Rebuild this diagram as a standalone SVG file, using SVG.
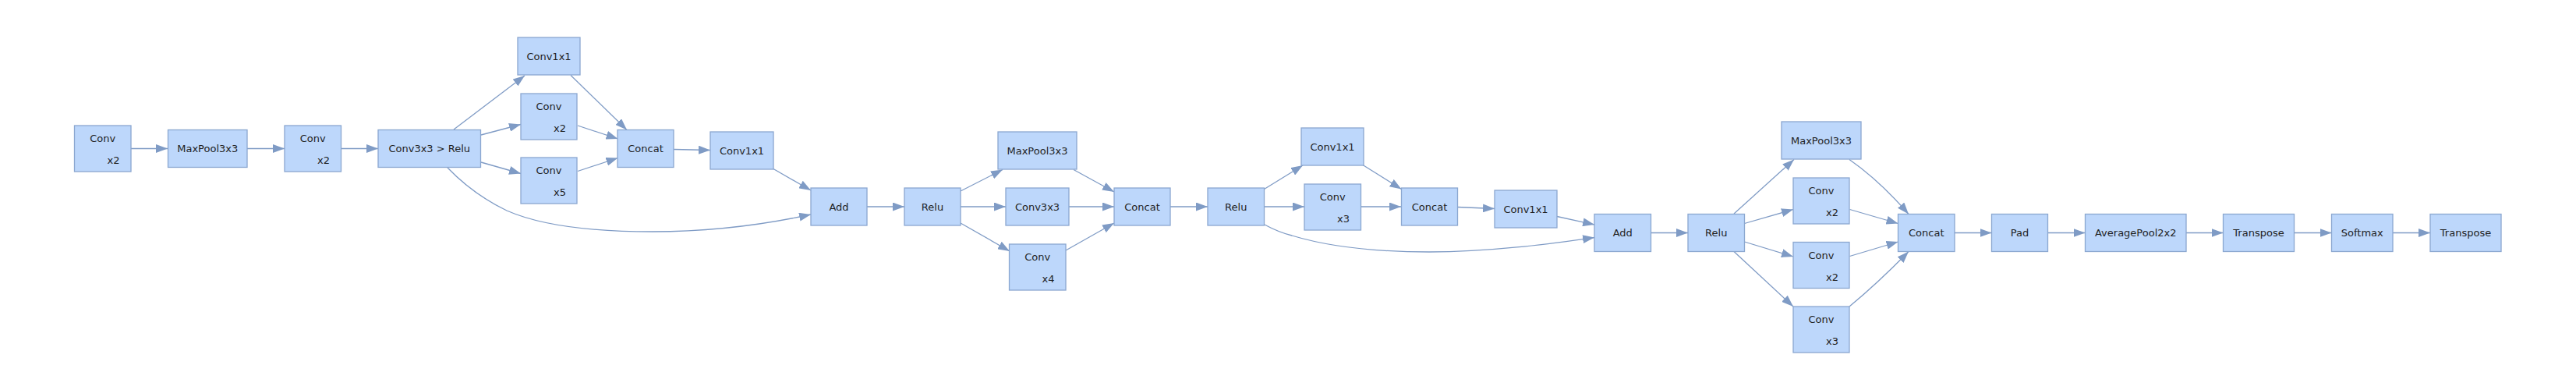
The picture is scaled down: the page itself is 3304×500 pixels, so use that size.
<svg xmlns="http://www.w3.org/2000/svg" width="3304" height="500" viewBox="0 0 3304 500">
<style>
.n rect{fill:#bdd7fb;stroke:#8ba7d0;stroke-width:1.3}
.n text{font-family:"DejaVu Sans",Verdana,sans-serif;font-size:13px;fill:#1e1e1e}
.c{text-anchor:middle}
#edges path{fill:none;stroke:#7f9bc5;stroke-width:1.3;marker-end:url(#ah)}
</style>
<defs>
<marker id="ah" markerUnits="userSpaceOnUse" markerWidth="15" markerHeight="11" viewBox="0 0 15 11" refX="15" refY="5.5" orient="auto">
<path d="M0,0 L15,5.5 L0,11 z" fill="#7f9bc5"/>
</marker>
</defs>
<rect width="3304" height="500" fill="#ffffff"/>
<g id="edges">
<path d="M168,190.5 L215,190.5"/>
<path d="M317,190.5 L365,190.5"/>
<path d="M438,190.5 L485,190.5"/>
<path d="M582,166 L673,97"/>
<path d="M617,173 L668,159.5"/>
<path d="M617,208 L668,222.5"/>
<path d="M732,96.5 L804,166.5"/>
<path d="M741,161 L792.5,178"/>
<path d="M741,219.5 L792.5,202.5"/>
<path d="M864,191.5 L911,192.5"/>
<path d="M992,216.5 L1040,244"/>
<path d="M574,215 C600,242 625,258 650,270 C700,292 770,297 837,297 C920,297 985,287 1040,275"/>
<path d="M1112,265 L1160,265"/>
<path d="M1232,245 L1286,217.5"/>
<path d="M1232,265 L1290,265"/>
<path d="M1232,286 L1295,322"/>
<path d="M1377,217.5 L1429,246"/>
<path d="M1371,265 L1429,265"/>
<path d="M1367,321 L1429,286"/>
<path d="M1501,265 L1549,265"/>
<path d="M1621.5,242.5 L1671,212"/>
<path d="M1621.5,265 L1673,265"/>
<path d="M1748,211.5 L1797.5,242.5"/>
<path d="M1745.5,265 L1797,265"/>
<path d="M1869,265.5 L1917,267.5"/>
<path d="M1997,277.5 L2045,288"/>
<path d="M1622,288 C1633,294 1645,299 1657,302 C1710,318 1770,323 1833,323 C1910,323 1985,313 2045,304.5"/>
<path d="M2117.5,298.5 L2165,298.5"/>
<path d="M2224,274 L2301,204.5"/>
<path d="M2237.5,286.5 L2300,268.5"/>
<path d="M2237.5,310 L2300,329"/>
<path d="M2224,322.5 L2300,393"/>
<path d="M2372,204.5 C2400,224 2425,248 2448,274.5"/>
<path d="M2372.5,268.5 L2434.5,286.5"/>
<path d="M2372.5,328.5 L2434.5,310"/>
<path d="M2372,393 C2400,370 2425,346 2448,322.5"/>
<path d="M2507,298.5 L2554.5,298.5"/>
<path d="M2626.5,298.5 L2674.5,298.5"/>
<path d="M2804,298.5 L2851.5,298.5"/>
<path d="M2942.5,298.5 L2990.5,298.5"/>
<path d="M3069,298.5 L3117,298.5"/>
</g>
<g id="conv1" class="n"><rect x="95.5" y="161" width="72.5" height="59"/><text class="c" x="131.75" y="182">Conv</text><text x="137.5" y="210">x2</text></g>
<g id="maxpool1" class="n"><rect x="215.5" y="166.5" width="101.5" height="48"/><text class="c" x="266.25" y="195">MaxPool3x3</text></g>
<g id="conv2" class="n"><rect x="365" y="161" width="72.5" height="59"/><text class="c" x="401.25" y="182">Conv</text><text x="407" y="210">x2</text></g>
<g id="convrelu" class="n"><rect x="485" y="166.5" width="131.5" height="48"/><text class="c" x="550.75" y="195">Conv3x3 &gt; Relu</text></g>
<g id="conv1x1a" class="n"><rect x="664" y="48" width="80" height="48"/><text class="c" x="704" y="76.5">Conv1x1</text></g>
<g id="conv3" class="n"><rect x="668" y="120" width="72" height="59"/><text class="c" x="704" y="141">Conv</text><text x="710" y="169">x2</text></g>
<g id="conv4" class="n"><rect x="668" y="202" width="72" height="59"/><text class="c" x="704" y="223">Conv</text><text x="710" y="251">x5</text></g>
<g id="concat1" class="n"><rect x="792" y="166.5" width="72" height="48"/><text class="c" x="828" y="195">Concat</text></g>
<g id="conv1x1b" class="n"><rect x="911" y="169" width="81" height="48"/><text class="c" x="951.5" y="197.5">Conv1x1</text></g>
<g id="add1" class="n"><rect x="1040" y="241" width="72" height="48"/><text class="c" x="1076" y="269.5">Add</text></g>
<g id="relu1" class="n"><rect x="1160" y="241" width="72" height="48"/><text class="c" x="1196" y="269.5">Relu</text></g>
<g id="maxpool2" class="n"><rect x="1280" y="169" width="101" height="48"/><text class="c" x="1330.5" y="197.5">MaxPool3x3</text></g>
<g id="conv3x3" class="n"><rect x="1290" y="241" width="81" height="48"/><text class="c" x="1330.5" y="269.5">Conv3x3</text></g>
<g id="conv5" class="n"><rect x="1294.5" y="313" width="72.5" height="59"/><text class="c" x="1330.75" y="334">Conv</text><text x="1336.5" y="362">x4</text></g>
<g id="concat2" class="n"><rect x="1429" y="241" width="72" height="48"/><text class="c" x="1465" y="269.5">Concat</text></g>
<g id="relu2" class="n"><rect x="1549" y="241" width="72.5" height="48"/><text class="c" x="1585.25" y="269.5">Relu</text></g>
<g id="conv1x1c" class="n"><rect x="1669" y="164" width="80" height="48"/><text class="c" x="1709" y="192.5">Conv1x1</text></g>
<g id="conv6" class="n"><rect x="1673" y="236" width="72.5" height="59"/><text class="c" x="1709.25" y="257">Conv</text><text x="1715" y="285">x3</text></g>
<g id="concat3" class="n"><rect x="1797.5" y="241" width="72" height="48"/><text class="c" x="1833.5" y="269.5">Concat</text></g>
<g id="conv1x1d" class="n"><rect x="1917" y="244" width="80" height="48"/><text class="c" x="1957" y="272.5">Conv1x1</text></g>
<g id="add2" class="n"><rect x="2045" y="274.5" width="72.5" height="48"/><text class="c" x="2081.25" y="303">Add</text></g>
<g id="relu3" class="n"><rect x="2165" y="274.5" width="72.5" height="48"/><text class="c" x="2201.25" y="303">Relu</text></g>
<g id="maxpool3" class="n"><rect x="2285" y="156" width="102" height="48"/><text class="c" x="2336" y="184.5">MaxPool3x3</text></g>
<g id="conv7" class="n"><rect x="2300" y="228" width="72" height="59"/><text class="c" x="2336" y="249">Conv</text><text x="2342" y="277">x2</text></g>
<g id="conv8" class="n"><rect x="2300" y="310.5" width="72" height="59"/><text class="c" x="2336" y="331.5">Conv</text><text x="2342" y="359.5">x2</text></g>
<g id="conv9" class="n"><rect x="2300" y="393" width="72" height="59"/><text class="c" x="2336" y="414">Conv</text><text x="2342" y="442">x3</text></g>
<g id="concat4" class="n"><rect x="2434.5" y="274.5" width="72.5" height="48"/><text class="c" x="2470.75" y="303">Concat</text></g>
<g id="pad" class="n"><rect x="2554.5" y="274.5" width="72" height="48"/><text class="c" x="2590.5" y="303">Pad</text></g>
<g id="avgpool" class="n"><rect x="2674.5" y="274.5" width="129.5" height="48"/><text class="c" x="2739.25" y="303">AveragePool2x2</text></g>
<g id="transpose1" class="n"><rect x="2851.5" y="274.5" width="91" height="48"/><text class="c" x="2897" y="303">Transpose</text></g>
<g id="softmax" class="n"><rect x="2990.5" y="274.5" width="78.5" height="48"/><text class="c" x="3029.75" y="303">Softmax</text></g>
<g id="transpose2" class="n"><rect x="3117" y="274.5" width="91" height="48"/><text class="c" x="3162.5" y="303">Transpose</text></g>
</svg>
